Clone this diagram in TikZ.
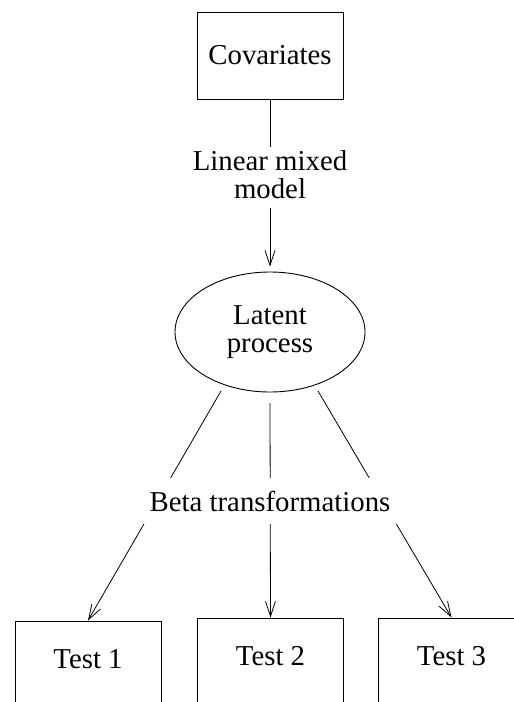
\documentclass[tikz,border=0pt]{standalone}
\usepackage{fontspec}
\setmainfont{Liberation Serif}
\usetikzlibrary{arrows.meta,shapes.geometric}
\begin{document}
\begin{tikzpicture}[x=1pt,y=-1pt,
  every node/.style={font=\fontsize{28.8}{28}\selectfont, align=center},
  box/.style={draw, line width=0.9pt, minimum width=146pt, minimum height=87pt, inner sep=0pt},
  lat/.style={draw, ellipse, line width=0.9pt, minimum width=190pt, minimum height=120pt, inner sep=0pt},
  lbl/.style={fill=white, inner sep=0pt},
  conn/.style={line width=0.8pt},
  arr/.style={conn, -{Straight Barb[length=15pt,width=10pt,line width=0.8pt]}}]
\useasboundingbox (0,0) rectangle (514,702);
\clip (0,0) rectangle (514,702);
\node[box] (cov) at (270,55.5) {Covariates};
\node[lat] (lat) at (270,332) {Latent\\process};
\node[box, text depth=11pt] (t1) at (88,664.5) {Test 1};
\node[box, text depth=11pt] (t2) at (270.5,661.5) {Test 2};
\node[box, text depth=11pt] (t3) at (451.5,661.5) {Test 3};
\coordinate (s1) at (221,391);
\coordinate (s2) at (270,403);
\coordinate (s3) at (318,391);
\draw[arr, shorten >=5pt] (cov.south) -- (lat.north);
\draw[arr] (s1) -- (t1.north);
\draw[arr] (s2) -- (t2.north);
\draw[arr] (s3) -- (t3.north);
\node[lbl, minimum width=100pt, minimum height=61pt, text depth=6pt] (lmm) at (270,177.5) {Linear mixed\\model};
\node[lbl, minimum width=258pt, minimum height=46pt] (beta) at (270,501) {Beta transformations};
\end{tikzpicture}
\end{document}
